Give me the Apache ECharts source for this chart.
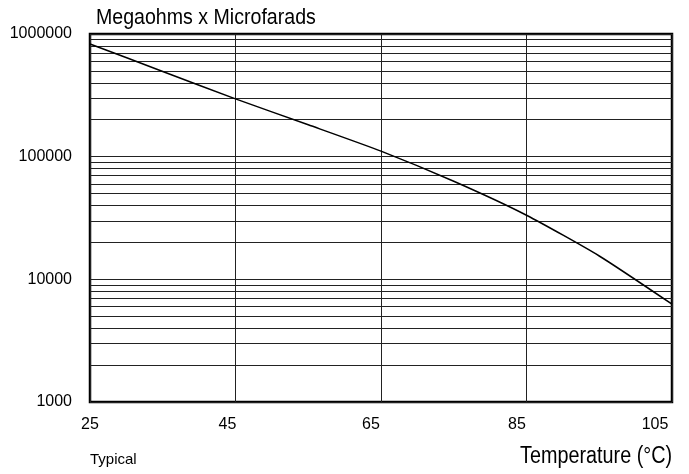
<!DOCTYPE html>
<html>
<head>
<meta charset="utf-8">
<script src="https://cdn.jsdelivr.net/npm/echarts@6/dist/echarts.min.js"></script>
<style>
  html, body { margin: 0; padding: 0; background: #fff; }
  #chart { width: 689px; height: 474px; }
</style>
</head>
<body>
<div id="chart"></div>
<script>
// Insulation resistance (megohm x microfarad) against temperature
var temperatures = [25, 35, 45, 55, 65, 75, 85, 95, 105];
var megohmMicrofarad = [830000, 495000, 296000, 182000, 111000, 63000, 33300, 15500, 6270];

// Decade subdivisions drawn as horizontal rulings on the log axis
var rulingValues = [
  2000, 3000, 4000, 5000, 6000, 7000, 8000, 9000, 10000,
  20000, 30000, 40000, 50000, 60000, 70000, 80000, 90000, 100000,
  200000, 300000, 400000, 500000, 600000, 700000, 800000, 900000
];
var xTicks = [25, 45, 65, 85, 105];

var FONT = '"Liberation Sans", Arial, sans-serif';

var chart = echarts.init(document.getElementById('chart'), null, { renderer: 'canvas' });

var lineData = temperatures.map(function (t, i) { return [t, megohmMicrofarad[i]]; });

var tickRich = {};
[0, 16, 20, 19, 34].forEach(function (pad, i) {
  tickRich['s' + i] = { fontFamily: FONT, fontSize: 16, color: '#000', padding: [0, pad, 0, 0] };
});

chart.setOption({
  animation: false,
  backgroundColor: '#ffffff',
  grid: {
    left: 90, right: 17, top: 34, bottom: 72,
    show: true, borderColor: '#000', borderWidth: 2.5, backgroundColor: 'transparent'
  },
  xAxis: {
    type: 'value',
    min: 25, max: 105, interval: 20,
    axisLine: { show: false },
    axisTick: { show: false },
    splitLine: { show: true, lineStyle: { color: '#222', width: 1 } },
    axisLabel: {
      margin: 15,
      fontFamily: FONT, fontSize: 16, color: '#000',
      formatter: function (v) {
        return '{s' + xTicks.indexOf(v) + '|' + v + '}';
      },
      rich: tickRich
    }
  },
  yAxis: {
    type: 'log',
    logBase: 10,
    min: 1000, max: 1000000,
    axisLine: { show: false },
    axisTick: { show: false },
    splitLine: { show: true, lineStyle: { color: '#222', width: 1 } },
    axisLabel: {
      margin: 18,
      fontFamily: FONT, fontSize: 16, color: '#000',
      formatter: function (v) { return String(Math.round(v)); }
    }
  },
  graphic: [
    {
      type: 'text', x: 96, y: 18, scaleX: 0.89,
      style: { text: 'Megaohms x Microfarads', font: '22px ' + FONT, fill: '#000',
               align: 'left', verticalAlign: 'middle' }
    },
    {
      type: 'text', x: 672, y: 457, scaleX: 0.86,
      style: { text: 'Temperature (°C)', font: '23px ' + FONT, fill: '#000',
               align: 'right', verticalAlign: 'middle' }
    },
    {
      type: 'text', x: 90, y: 460,
      style: { text: 'Typical', font: '15px ' + FONT, fill: '#000',
               align: 'left', verticalAlign: 'middle' }
    }
  ],
  series: [
    {
      type: 'line',
      data: lineData,
      smooth: 0.2,
      showSymbol: false,
      lineStyle: { color: '#000', width: 1.5 },
      z: 5,
      markLine: {
        silent: true,
        symbol: ['none', 'none'],
        label: { show: false },
        lineStyle: { color: '#222', width: 1, type: 'solid' },
        data: rulingValues.map(function (v) { return { yAxis: v }; })
      }
    }
  ]
});
</script>
</body>
</html>
